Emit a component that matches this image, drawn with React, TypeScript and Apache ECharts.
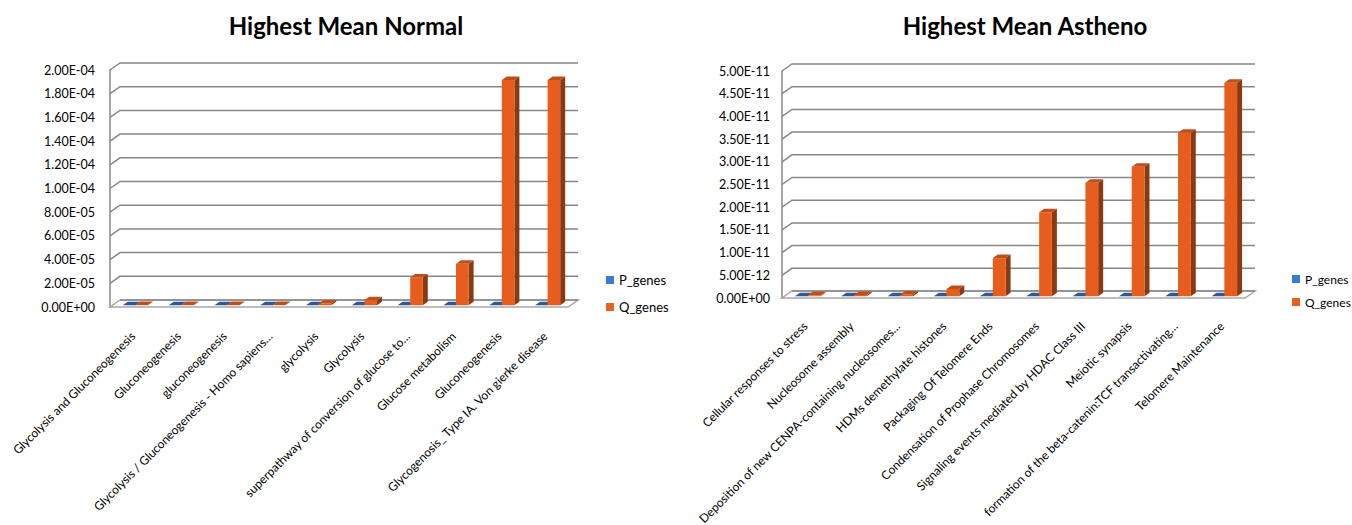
import React, { useEffect, useRef } from "react";
import * as echarts from "echarts";

// ---- data: pathways with the highest mean, normal samples ----
const normalCategories = [
  "Glycolysis and Gluconeogenesis",
  "Gluconeogenesis",
  "gluconeogenesis",
  "Glycolysis / Gluconeogenesis - Homo sapiens…",
  "glycolysis",
  "Glycolysis",
  "superpathway of conversion of glucose to…",
  "Glucose metabolism",
  "Gluconeogenesis",
  "Glycogenosis_ Type IA. Von gierke disease",
];
const normalP = [1e-8, 1e-8, 1e-8, 1e-8, 1e-8, 1e-8, 1e-8, 1e-8, 1e-8, 1e-8];
const normalQ = [2e-7, 2e-7, 2e-7, 2e-7, 1.5e-6, 4.3e-6, 2.35e-5, 3.5e-5, 1.9e-4, 1.9e-4];
const normalTicks = [0, 2e-5, 4e-5, 6e-5, 8e-5, 1e-4, 1.2e-4, 1.4e-4, 1.6e-4, 1.8e-4, 2e-4];

// ---- data: pathways with the highest mean, asthenozoospermic samples ----
const asthenoCategories = [
  "Cellular responses to stress",
  "Nucleosome assembly",
  "Deposition of new CENPA-containing nucleosomes…",
  "HDMs demethylate histones",
  "Packaging Of Telomere Ends",
  "Condensation of Prophase Chromosomes",
  "Signaling events mediated by HDAC Class III",
  "Meiotic synapsis",
  "formation of the beta-catenin:TCF transactivating…",
  "Telomere Maintenance",
];
const asthenoP = [1e-15, 1e-15, 1e-15, 1e-15, 1e-15, 1e-15, 1e-15, 1e-15, 1e-15, 1e-15];
const asthenoQ = [2e-13, 3e-13, 4e-13, 1.6e-12, 8.4e-12, 1.85e-11, 2.5e-11, 2.85e-11, 3.6e-11, 4.7e-11];
const asthenoTicks = [0, 5e-12, 1e-11, 1.5e-11, 2e-11, 2.5e-11, 3e-11, 3.5e-11, 4e-11, 4.5e-11, 5e-11];

const seriesNames = ["P_genes", "Q_genes"];

// ---- styling ----
const FONT = "Lato, 'Open Sans', sans-serif";
const GRID_COLOR = "#878787";
const FLOOR_COLOR = "#A8A8A8";
const WALL_DX = 10; // depth of the 3D box, horizontal
const WALL_DY = -7; // depth of the 3D box, vertical
const BAR_FX = 2.5; // bar front face offset inside the box
const BAR_FY = -1.75;
const BAR_DX = 5; // bar depth
const BAR_DY = -3.5;
const BAR_W = 0.275; // fraction of a category band per bar

const faces = [
  { front: "#3C78C6", top: "#2D5A96", side: "#1F3F6B", legend: "#3A7BD5" },
  { front: "#E65D1E", top: "#BF4E1A", side: "#8A3A12", legend: "#E8621F" },
];

// 2.00E-04 style labels
const sci = (v: number) => {
  const [m, e] = v.toExponential(2).split("e");
  const n = parseInt(e, 10);
  return `${m}E${n < 0 ? "-" : "+"}${String(Math.abs(n)).padStart(2, "0")}`;
};

// back wall lines, the left-wall diagonals and the floor
const frameRender = (params: any, api: any) => {
  const cs = params.coordSys;
  const v = api.value(1);
  const y = api.coord([0, v])[1];
  const x0 = cs.x;
  const x1 = cs.x + cs.width;
  if (v === 0) {
    return {
      type: "group",
      children: [
        {
          type: "polygon",
          shape: {
            points: [
              [x0, y],
              [x1, y],
              [x1 + WALL_DX, y + WALL_DY],
              [x0 + WALL_DX, y + WALL_DY],
            ],
          },
          style: { fill: "#ffffff", stroke: FLOOR_COLOR, lineWidth: 1.5 },
        },
        {
          type: "polyline",
          shape: { points: [[x0 + WALL_DX, y + WALL_DY], [x1 + WALL_DX, y + WALL_DY]] },
          style: { fill: "none", stroke: GRID_COLOR, lineWidth: 1.5 },
        },
      ],
    };
  }
  return {
    type: "polyline",
    shape: {
      points: [
        [x0, y],
        [x0 + WALL_DX, y + WALL_DY],
        [x1 + WALL_DX, y + WALL_DY],
      ],
    },
    style: { fill: "none", stroke: GRID_COLOR, lineWidth: 1.5 },
  };
};

// 3D-looking column: front face, top face and right side face
const barRender = (which: number) => (params: any, api: any) => {
  const i = api.value(0);
  const v = api.value(1);
  const [cx, yTop] = api.coord([i, v]);
  const yBase = api.coord([i, 0])[1];
  const band = api.size([1, 0])[0];
  const w = band * BAR_W;
  const left = (which === 0 ? cx - w : cx) + BAR_FX;
  const right = left + w;
  const t = yTop + BAR_FY;
  const b = yBase + BAR_FY;
  const f = faces[which];
  return {
    type: "group",
    children: [
      {
        type: "polygon",
        shape: { points: [[right, t], [right + BAR_DX, t + BAR_DY], [right + BAR_DX, b + BAR_DY], [right, b]] },
        style: { fill: f.side },
      },
      {
        type: "rect",
        shape: { x: left, y: t, width: w, height: Math.max(b - t, 0) },
        style: { fill: f.front },
      },
      {
        type: "polygon",
        shape: { points: [[left, t], [right, t], [right + BAR_DX, t + BAR_DY], [left + BAR_DX, t + BAR_DY]] },
        style: { fill: f.top },
      },
    ],
  };
};

const panel = (
  gridIndex: number,
  ticks: number[],
  p: number[],
  q: number[]
) => [
  {
    type: "custom",
    name: "frame",
    xAxisIndex: gridIndex,
    yAxisIndex: gridIndex,
    data: ticks.map((t) => [0, t]),
    renderItem: frameRender,
    silent: true,
    z: 1,
  },
  ...[p, q].map((vals, k) => ({
    type: "custom",
    name: seriesNames[k],
    xAxisIndex: gridIndex,
    yAxisIndex: gridIndex,
    data: vals.map((v, i) => [i, v]),
    encode: { x: 0, y: 1 },
    itemStyle: { color: faces[k].legend },
    renderItem: barRender(k),
    z: 2 + k,
  })),
];

const xAxisFor = (gridIndex: number, cats: string[], margin: number) => ({
  type: "category",
  gridIndex,
  data: cats,
  axisLine: { show: false },
  axisTick: { show: false },
  axisLabel: {
    interval: 0,
    rotate: 45,
    margin,
    color: "#000",
    fontSize: 12,
    fontFamily: FONT,
  },
});

const yAxisFor = (gridIndex: number, ticks: number[], margin: number) => ({
  type: "value",
  gridIndex,
  min: 0,
  max: ticks[ticks.length - 1],
  interval: ticks[1],
  axisLine: { show: true, lineStyle: { color: GRID_COLOR, width: 1.5 } },
  axisTick: { show: false },
  splitLine: { show: false },
  axisLabel: {
    margin,
    color: "#000",
    fontSize: 12.5,
    fontFamily: FONT,
    formatter: (v: number) => sci(v),
  },
});

const legendFor = (left: number, top: number, gap: number, size: number) => ({
  orient: "vertical",
  left,
  top,
  icon: "rect",
  itemWidth: 8,
  itemHeight: 8,
  itemGap: gap,
  data: seriesNames,
  selectedMode: false,
  textStyle: { fontSize: size, fontFamily: FONT, color: "#000", lineHeight: 14 },
});

export default function App() {
  const ref = useRef<HTMLDivElement>(null);

  useEffect(() => {
    document.body.style.margin = "0";
    if (!ref.current) return;
    const chart = echarts.init(ref.current, undefined, { renderer: "svg" });
    chart.setOption({
      animation: false,
      backgroundColor: "#ffffff",
      title: [
        {
          text: "Highest Mean Normal",
          left: 341,
          top: 8,
          textAlign: "center",
          textStyle: { fontSize: 24, fontWeight: "bold", fontFamily: FONT, color: "#000" },
        },
        {
          text: "Highest Mean Astheno",
          left: 1020,
          top: 8,
          textAlign: "center",
          textStyle: { fontSize: 24, fontWeight: "bold", fontFamily: FONT, color: "#000" },
        },
      ],
      legend: [legendFor(601, 268, 13, 13), legendFor(1287, 267, 9, 12)],
      grid: [
        { left: 110, top: 70, width: 458, height: 237, outerBoundsMode: "none", containLabel: false },
        { left: 782, top: 71, width: 463, height: 227, outerBoundsMode: "none", containLabel: false },
      ],
      xAxis: [xAxisFor(0, normalCategories, 27), xAxisFor(1, asthenoCategories, 26)],
      yAxis: [yAxisFor(0, normalTicks, 15), yAxisFor(1, asthenoTicks, 12)],
      series: [
        ...panel(0, normalTicks, normalP, normalQ),
        ...panel(1, asthenoTicks, asthenoP, asthenoQ),
      ],
    });
    return () => chart.dispose();
  }, []);

  return <div ref={ref} style={{ width: 1352, height: 525 }} />;
}
